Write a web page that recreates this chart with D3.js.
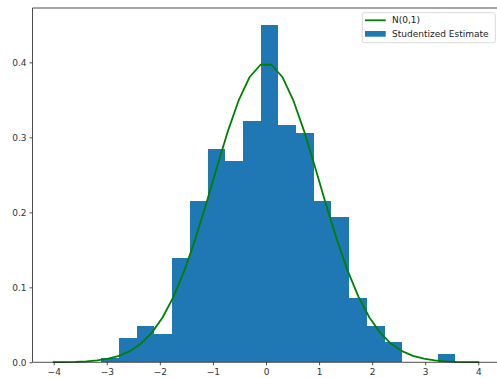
<!DOCTYPE html>
<html>
<head>
<meta charset="utf-8">
<script src="https://cdn.jsdelivr.net/npm/d3@7"></script>
<style>
  html, body { margin: 0; padding: 0; background: #fff; }
  svg { display: block; font-family: "DejaVu Sans", sans-serif; }
</style>
</head>
<body>
<svg id="chart" width="497" height="378"></svg>
<script>
// ---- Data ----
const binEdges = [-3.102, -2.769, -2.435, -2.102, -1.768, -1.435, -1.101, -0.768, -0.435, -0.101,
                  0.232, 0.566, 0.899, 1.233, 1.566, 1.899, 2.233, 2.566, 2.900, 3.233, 3.566];
const binDensity = [0.0057, 0.032, 0.0484, 0.0377, 0.1395, 0.2151, 0.284, 0.268, 0.3213, 0.45,
                    0.316, 0.3057, 0.2147, 0.1933, 0.0857, 0.0484, 0.0271, 0, 0, 0.0111];
const curveX = [-4.0000, -3.7949, -3.5897, -3.3846, -3.1795, -2.9744, -2.7692, -2.5641, -2.3590, -2.1538,
                -1.9487, -1.7436, -1.5385, -1.3333, -1.1282, -0.9231, -0.7179, -0.5128, -0.3077, -0.1026,
                0.1026, 0.3077, 0.5128, 0.7179, 0.9231, 1.1282, 1.3333, 1.5385, 1.7436, 1.9487,
                2.1538, 2.3590, 2.5641, 2.7692, 2.9744, 3.1795, 3.3846, 3.5897, 3.7949, 4.0000];
const curveY = [0.000134, 0.000298, 0.000635, 0.001298, 0.002545, 0.004783, 0.008624, 0.014902, 0.024686, 0.039221,
                0.059753, 0.087252, 0.122162, 0.164008, 0.211116, 0.260557, 0.308314, 0.349793, 0.380495, 0.396849,
                0.396849, 0.380495, 0.349793, 0.308314, 0.260557, 0.211116, 0.164008, 0.122162, 0.087252, 0.059753,
                0.039221, 0.024686, 0.014902, 0.008624, 0.004783, 0.002545, 0.001298, 0.000635, 0.000298, 0.000134];
const xTicks = [-4, -3, -2, -1, 0, 1, 2, 3, 4];
const yTicks = [0.0, 0.1, 0.2, 0.3, 0.4];
const legendLabels = ["N(0,1)", "Studentized Estimate"];

// ---- Layout ----
(function () {
const svg = d3.select("#chart");
const mL = 32.5, mR = 499.5, mT = 8, mB = 362.3;
const x = d3.scaleLinear().domain([-4.4, 4.4]).range([mL, mR]);
const y = d3.scaleLinear().domain([0, 0.4725]).range([mB, mT]);
const barColor = "#1f77b4";
const lineColor = "#008000";
const axisColor = "#222";

// bars
const bins = binDensity.map((d, i) => ({x0: binEdges[i], x1: binEdges[i + 1], v: d}));
svg.append("g").selectAll("rect").data(bins.filter(b => b.v > 0)).join("rect")
  .attr("x", d => x(d.x0))
  .attr("width", d => x(d.x1) - x(d.x0))
  .attr("y", d => y(d.v))
  .attr("height", d => y(0) - y(d.v))
  .attr("fill", barColor)
  .attr("shape-rendering", "crispEdges");

// curve
const pts = curveX.map((v, i) => [v, curveY[i]]);
svg.append("path").datum(pts)
  .attr("d", d3.line().x(d => x(d[0])).y(d => y(d[1])))
  .attr("fill", "none").attr("stroke", lineColor).attr("stroke-width", 1.8)
  .attr("stroke-linejoin", "round").attr("stroke-linecap", "square");

// axes
const xAxis = svg.append("g").attr("transform", `translate(0,${mB})`)
  .call(d3.axisBottom(x).tickValues(xTicks).tickSize(3).tickPadding(3)
    .tickFormat(d => d < 0 ? "\u2212" + Math.abs(d) : String(d)));
const yAxis = svg.append("g").attr("transform", `translate(${mL},0)`)
  .call(d3.axisLeft(y).tickValues(yTicks).tickSize(3).tickPadding(3).tickFormat(d3.format(".1f")));
[xAxis, yAxis].forEach(g => {
  g.select(".domain").remove();
  g.selectAll(".tick line").attr("stroke", axisColor).attr("stroke-width", 0.8);
  g.selectAll(".tick text").attr("fill", "#333").style("font-size", "9px").style("font-family", "DejaVu Sans, sans-serif");
});

// spines
const spine = svg.append("g").attr("stroke", axisColor).attr("stroke-width", 0.8).attr("fill", "none");
spine.append("line").attr("x1", mL).attr("x2", mL).attr("y1", mT).attr("y2", mB);
spine.append("line").attr("x1", mL).attr("x2", mR).attr("y1", mT).attr("y2", mT);
spine.append("line").attr("x1", mL).attr("x2", mR).attr("y1", mB).attr("y2", mB);
spine.append("line").attr("x1", mR).attr("x2", mR).attr("y1", mT).attr("y2", mB);

// legend
const lg = svg.append("g");
lg.append("rect").attr("x", 362.3).attr("y", 12.7).attr("width", 133).attr("height", 30)
  .attr("rx", 2).attr("fill", "#fff").attr("fill-opacity", 0.8).attr("stroke", "#d0d0d0").attr("stroke-width", 0.8);
lg.append("line").attr("x1", 365).attr("x2", 385.7).attr("y1", 20.3).attr("y2", 20.3)
  .attr("stroke", lineColor).attr("stroke-width", 1.8);
lg.append("rect").attr("x", 365).attr("y", 31).attr("width", 20.7).attr("height", 5.7).attr("fill", barColor);
lg.selectAll("text").data(legendLabels).join("text")
  .attr("x", 392).attr("y", (d, i) => 20.3 + i * 13.7).attr("dy", "0.35em")
  .style("font-size", "9px").attr("fill", "#222").text(d => d);
})();
</script>
</body>
</html>
